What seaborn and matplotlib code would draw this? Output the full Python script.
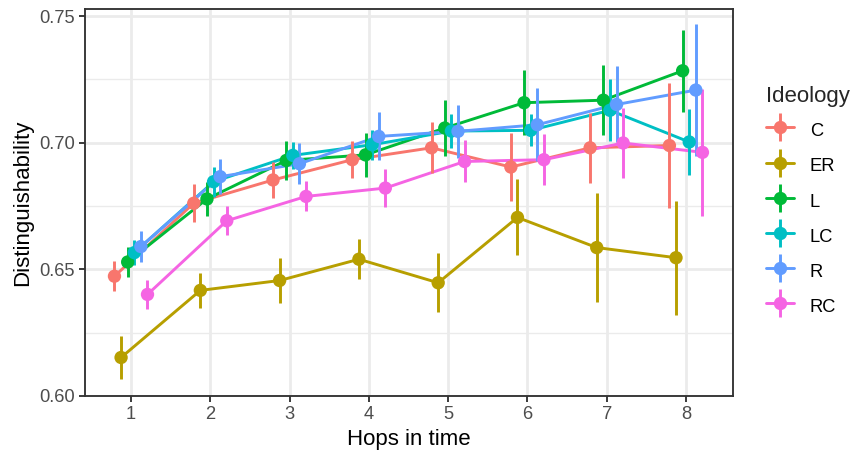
import numpy as np
import pandas as pd
import matplotlib
matplotlib.use("Agg")
import matplotlib.pyplot as plt
from matplotlib.lines import Line2D
from matplotlib.legend_handler import HandlerTuple
import seaborn as sns

# Mean distinguishability per hop, with half-width of the interval
hops = [1, 2, 3, 4, 5, 6, 7, 8]
ideologies = ["C", "ER", "L", "LC", "R", "RC"]

C_mean = [0.6473, 0.6761, 0.6853, 0.6933, 0.6980, 0.6904, 0.6980, 0.6989]
C_err = [0.0060, 0.0075, 0.0071, 0.0073, 0.0100, 0.0134, 0.0138, 0.0245]
ER_mean = [0.6152, 0.6417, 0.6456, 0.6540, 0.6447, 0.6705, 0.6586, 0.6546]
ER_err = [0.0085, 0.0068, 0.0090, 0.0078, 0.0116, 0.0150, 0.0215, 0.0225]
L_mean = [0.6529, 0.6778, 0.6930, 0.6952, 0.7058, 0.7158, 0.7168, 0.7284]
L_err = [0.0060, 0.0068, 0.0077, 0.0087, 0.0110, 0.0129, 0.0137, 0.0162]
LC_mean = [0.6566, 0.6846, 0.6950, 0.6992, 0.7046, 0.7049, 0.7128, 0.7003]
LC_err = [0.0050, 0.0060, 0.0053, 0.0060, 0.0068, 0.0063, 0.0122, 0.0132]
R_mean = [0.6590, 0.6866, 0.6917, 0.7025, 0.7045, 0.7071, 0.7151, 0.7208]
R_err = [0.0060, 0.0070, 0.0081, 0.0095, 0.0104, 0.0145, 0.0150, 0.0260]
RC_mean = [0.6401, 0.6692, 0.6788, 0.6821, 0.6926, 0.6933, 0.6999, 0.6962]
RC_err = [0.0056, 0.0057, 0.0059, 0.0075, 0.0083, 0.0101, 0.0140, 0.0250]

colors = ["#F8766D", "#B79F00", "#00BA38", "#00BFC4", "#619CFF", "#F564E3"]

means = [C_mean, ER_mean, L_mean, LC_mean, R_mean, RC_mean]
errs = [C_err, ER_err, L_err, LC_err, R_err, RC_err]

# long-format table with dodged x positions (total dodge width 0.5)
dodge_width = 0.5
rows = []
n = len(ideologies)
for i, (name, m, e) in enumerate(zip(ideologies, means, errs)):
    off = (i - (n - 1) / 2) * dodge_width / n
    for h, v, s in zip(hops, m, e):
        rows.append({"Ideology": name, "hop": h, "x": h + off,
                     "value": v, "lo": v - s, "hi": v + s})
df = pd.DataFrame(rows)

sns.set_theme(style="white")
plt.rcParams["font.family"] = ["Liberation Sans", "DejaVu Sans"]

DPI = 150
fig = plt.figure(figsize=(851 / DPI, 451 / DPI), dpi=DPI)
ax = fig.add_axes([85 / 851, 1 - 396 / 451, (732.7 - 85) / 851, (396 - 9) / 451])

palette = dict(zip(ideologies, colors))
lw = 1.4

# connecting lines
sns.lineplot(data=df, x="x", y="value", hue="Ideology", palette=palette,
             hue_order=ideologies, linewidth=lw, legend=False, ax=ax,
             zorder=3, estimator=None, sort=True)

# point ranges
for name in ideologies:
    sub = df[df["Ideology"] == name]
    ax.vlines(sub["x"], sub["lo"], sub["hi"], color=palette[name],
              linewidth=lw, zorder=4)
sns.scatterplot(data=df, x="x", y="value", hue="Ideology", palette=palette,
                hue_order=ideologies, s=6.4 ** 2, linewidth=0, legend=False,
                ax=ax, zorder=5)

# axes styling
ax.set_xlim(0.42, 8.59)
ax.set_ylim(0.600, 0.7528)
ax.set_xticks(hops)
ax.set_xticks([], minor=True)
ax.set_yticks([0.60, 0.65, 0.70, 0.75])
ax.set_yticks([0.625, 0.675, 0.725], minor=True)
ax.yaxis.set_major_formatter(matplotlib.ticker.FormatStrFormatter("%.2f"))
ax.grid(which="major", color="#EBEBEB", linewidth=1.3, zorder=0)
ax.grid(which="minor", axis="y", color="#EBEBEB", linewidth=0.65, zorder=0)
ax.set_axisbelow(True)
for sp in ax.spines.values():
    sp.set_color("#333333")
    sp.set_linewidth(0.9)
    sp.set_visible(True)
ax.tick_params(axis="both", which="major", length=2.75, width=0.9,
               color="#333333", labelcolor="#4D4D4D", labelsize=8.8, pad=2.2,
               direction="out", bottom=True, left=True)
ax.tick_params(which="minor", length=0)
ax.set_xlabel("Hops in time", fontsize=10.7, color="black", labelpad=2.5)
ax.set_ylabel("Distinguishability", fontsize=10.7, color="black", labelpad=2.8)

# legend with point-range keys
handles = []
for c in colors:
    h1 = Line2D([], [], color=c, linewidth=lw, marker="o", markersize=6.4,
                markeredgewidth=0)
    h2 = Line2D([], [], color=c, linestyle="none", marker="|",
                markersize=13, markeredgewidth=lw)
    handles.append((h1, h2))
leg = fig.legend(handles, ideologies, title="Ideology",
                 handler_map={tuple: HandlerTuple(ndivide=1, pad=0)},
                 loc="upper left", bbox_to_anchor=(766 / 851, 1 - 86 / 451),
                 frameon=False, fontsize=8.8, title_fontsize=10.7,
                 handlelength=1.55, handleheight=1.6, labelspacing=0.63,
                 handletextpad=0.85, borderpad=0, borderaxespad=0,
                 alignment="left")
for t in leg.get_texts():
    t.set_color("black")

fig.savefig("out.png", dpi=DPI)
